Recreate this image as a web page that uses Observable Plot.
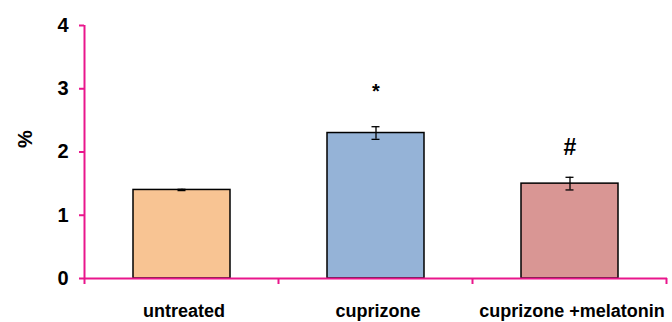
<!DOCTYPE html>
<html>
<head>
<meta charset="utf-8">
<script src="https://cdn.jsdelivr.net/npm/d3@7"></script>
<script src="https://cdn.jsdelivr.net/npm/@observablehq/plot@0.6"></script>
<style>
  html, body { margin: 0; padding: 0; background: #fff; }
  #chart svg { display: block; }
</style>
</head>
<body>
<div id="chart"></div>
<script>
const categories = ["untreated", "cuprizone", "cuprizone +melatonin"];
const values = [1.40, 2.30, 1.50];
const errors = [0.01, 0.10, 0.10];
const fills = ["#F8C493", "#95B3D7", "#D99694"];
const marks = ["", "*", "#"];
const markLevels = [null, 2.96, 2.07];
const markSizes = [0, 20, 23];
const yTicks = [0, 1, 2, 3, 4];
const yLabel = "%";

const magenta = "#E9168C";
const data = categories.map((c, i) => ({cat: c, value: values[i], err: errors[i], fill: fills[i]}));
const notes = categories.map((c, i) => ({cat: c, text: marks[i], y: markLevels[i], size: markSizes[i]})).filter(d => d.text);

const chart = Plot.plot({
  width: 672,
  height: 322,
  marginLeft: 84,
  marginRight: 5,
  marginTop: 25,
  marginBottom: 44,
  style: {fontFamily: "'Liberation Sans', Arial, sans-serif", background: "white", overflow: "visible"},
  x: {domain: categories, paddingInner: 0.5, paddingOuter: 0.25, axis: null},
  y: {domain: [0, 4], axis: null},
  marks: [
    Plot.barY(data, {x: "cat", y: "value", fill: "fill", stroke: "black", strokeWidth: 1.5}),
    Plot.ruleX(data, {x: "cat", y1: d => d.value - d.err, y2: d => d.value + d.err, stroke: "black", strokeWidth: 1.3}),
    Plot.tickY(data, {x: "cat", y: d => d.value - d.err, stroke: "black", strokeWidth: 1.3, insetLeft: 44.5, insetRight: 44.5}),
    Plot.tickY(data, {x: "cat", y: d => d.value + d.err, stroke: "black", strokeWidth: 1.3, insetLeft: 44.5, insetRight: 44.5}),
    Plot.text(notes, {x: "cat", y: "y", text: "text", fontSize: d => d.size, fontWeight: "bold", fill: "black"}),
    Plot.ruleY([0], {stroke: magenta, strokeWidth: 2}),
    Plot.axisY({ticks: yTicks, tickSize: 5, tickPadding: 11, stroke: magenta, strokeWidth: 2, fill: "black", fontSize: 20, fontWeight: "bold", label: null, tickFormat: d => String(d)}),
    Plot.axisX({tickSize: 0, tickPadding: 26, dx: 2, fill: "black", fontSize: 18, fontWeight: "bold", label: null}),
    Plot.text([yLabel], {frameAnchor: "left", dx: -59, dy: -4, rotate: -90, fontSize: 20, fontWeight: "bold", fill: "black"})
  ]
});

// y axis line and x band-boundary ticks from the plot's own scales
const xs = chart.scale("x");
const ys = chart.scale("y");
const svg = d3.select(chart);
const y0 = ys.apply(0), y4 = ys.apply(4);
const bounds = [];
categories.forEach((c, i) => {
  const start = xs.apply(c) - (xs.step - xs.bandwidth) / 2;
  bounds.push(start);
  if (i === categories.length - 1) bounds.push(start + xs.step);
});
const g = svg.append("g");
g.append("line").attr("x1", bounds[0]).attr("x2", bounds[0]).attr("y1", y4).attr("y2", y0)
  .attr("stroke", magenta).attr("stroke-width", 2);
bounds.forEach(b => {
  g.append("line").attr("x1", b).attr("x2", b).attr("y1", y0).attr("y2", y0 + 6)
    .attr("stroke", magenta).attr("stroke-width", 2);
});

document.getElementById("chart").appendChild(chart);
</script>
</body>
</html>
